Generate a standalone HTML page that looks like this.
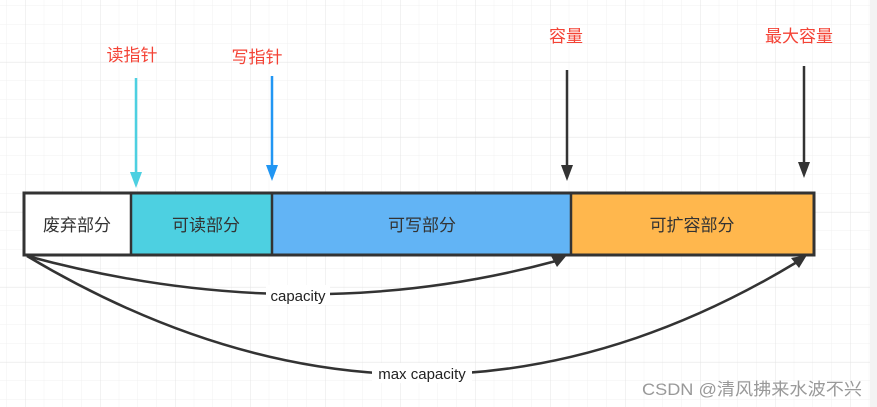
<!DOCTYPE html>
<html><head><meta charset="utf-8"><style>
html,body{margin:0;padding:0;background:#fff}
svg{display:block}
text{font-family:"Liberation Sans","Noto Sans CJK SC",sans-serif}
</style></head><body>
<svg width="877" height="407" viewBox="0 0 877 407" xmlns="http://www.w3.org/2000/svg">
<defs>
<pattern id="minor" width="18.75" height="18.75" patternUnits="userSpaceOnUse" x="6.25" y="5.5">
<path d="M0 0V18.75M0 0H18.75" stroke="#f1f1f1" stroke-width="1" fill="none"/>
</pattern>
<pattern id="major" width="75" height="75" patternUnits="userSpaceOnUse" x="25" y="62">
<path d="M0 0V75M0 0H75" stroke="#e4e4e4" stroke-width="1" fill="none"/>
</pattern>
</defs>
<rect width="877" height="407" fill="#fff"/>
<rect width="877" height="407" fill="url(#minor)"/>
<rect width="877" height="407" fill="url(#major)"/>
<rect x="870" y="0" width="7" height="407" fill="#f3f3f3"/>

<rect x="24" y="193" width="107" height="62" fill="#fff"/>
<rect x="131" y="193" width="141" height="62" fill="#4dd0e1"/>
<rect x="272" y="193" width="299" height="62" fill="#62b4f5"/>
<rect x="571" y="193" width="243" height="62" fill="#ffb74d"/>
<rect x="24" y="193" width="790" height="62" fill="none" stroke="#333" stroke-width="3"/>
<line x1="131" y1="193" x2="131" y2="255" stroke="#333" stroke-width="2.5"/>
<line x1="272" y1="193" x2="272" y2="255" stroke="#333" stroke-width="2.5"/>
<line x1="571" y1="193" x2="571" y2="255" stroke="#333" stroke-width="2.5"/>

<g font-size="17" fill="#333" text-anchor="middle">
<text x="77" y="231">废弃部分</text>
<text x="206" y="231">可读部分</text>
<text x="422" y="231">可写部分</text>
<text x="692" y="231">可扩容部分</text>
</g>

<g font-size="17" fill="#f44336" text-anchor="middle">
<text x="132" y="61">读指针</text>
<text x="257" y="63">写指针</text>
<text x="566" y="42">容量</text>
<text x="799" y="42">最大容量</text>
</g>

<line x1="136" y1="78" x2="136" y2="176" stroke="#4dd0e1" stroke-width="2.5"/>
<polygon points="130,172 142,172 136,188" fill="#4dd0e1"/>
<line x1="272" y1="76" x2="272" y2="168" stroke="#2196f3" stroke-width="2.5"/>
<polygon points="266,165 278,165 272,181" fill="#2196f3"/>
<line x1="567" y1="70" x2="567" y2="168" stroke="#333" stroke-width="2.5"/>
<polygon points="561,165 573,165 567,181" fill="#333"/>
<line x1="804" y1="66" x2="804" y2="164" stroke="#333" stroke-width="2.5"/>
<polygon points="798,162 810,162 804,178" fill="#333"/>

<path d="M27 256 Q300 330 556 261" fill="none" stroke="#333" stroke-width="2.5"/>
<polygon points="567,255 551,256 557,267" fill="#333"/>
<path d="M27 256 Q420 490 797 262" fill="none" stroke="#333" stroke-width="2.5"/>
<polygon points="807,255 791,258 799,268" fill="#333"/>

<rect x="266" y="285" width="64" height="20" fill="#fff"/>
<text x="298" y="301" font-size="15" fill="#222" text-anchor="middle">capacity</text>
<rect x="372" y="363" width="100" height="20" fill="#fff"/>
<text x="422" y="379" font-size="15" fill="#222" text-anchor="middle">max capacity</text>

<text x="642" y="395" font-size="17" fill="#999" textLength="220" lengthAdjust="spacingAndGlyphs">CSDN @清风拂来水波不兴</text>
</svg>
</body></html>
